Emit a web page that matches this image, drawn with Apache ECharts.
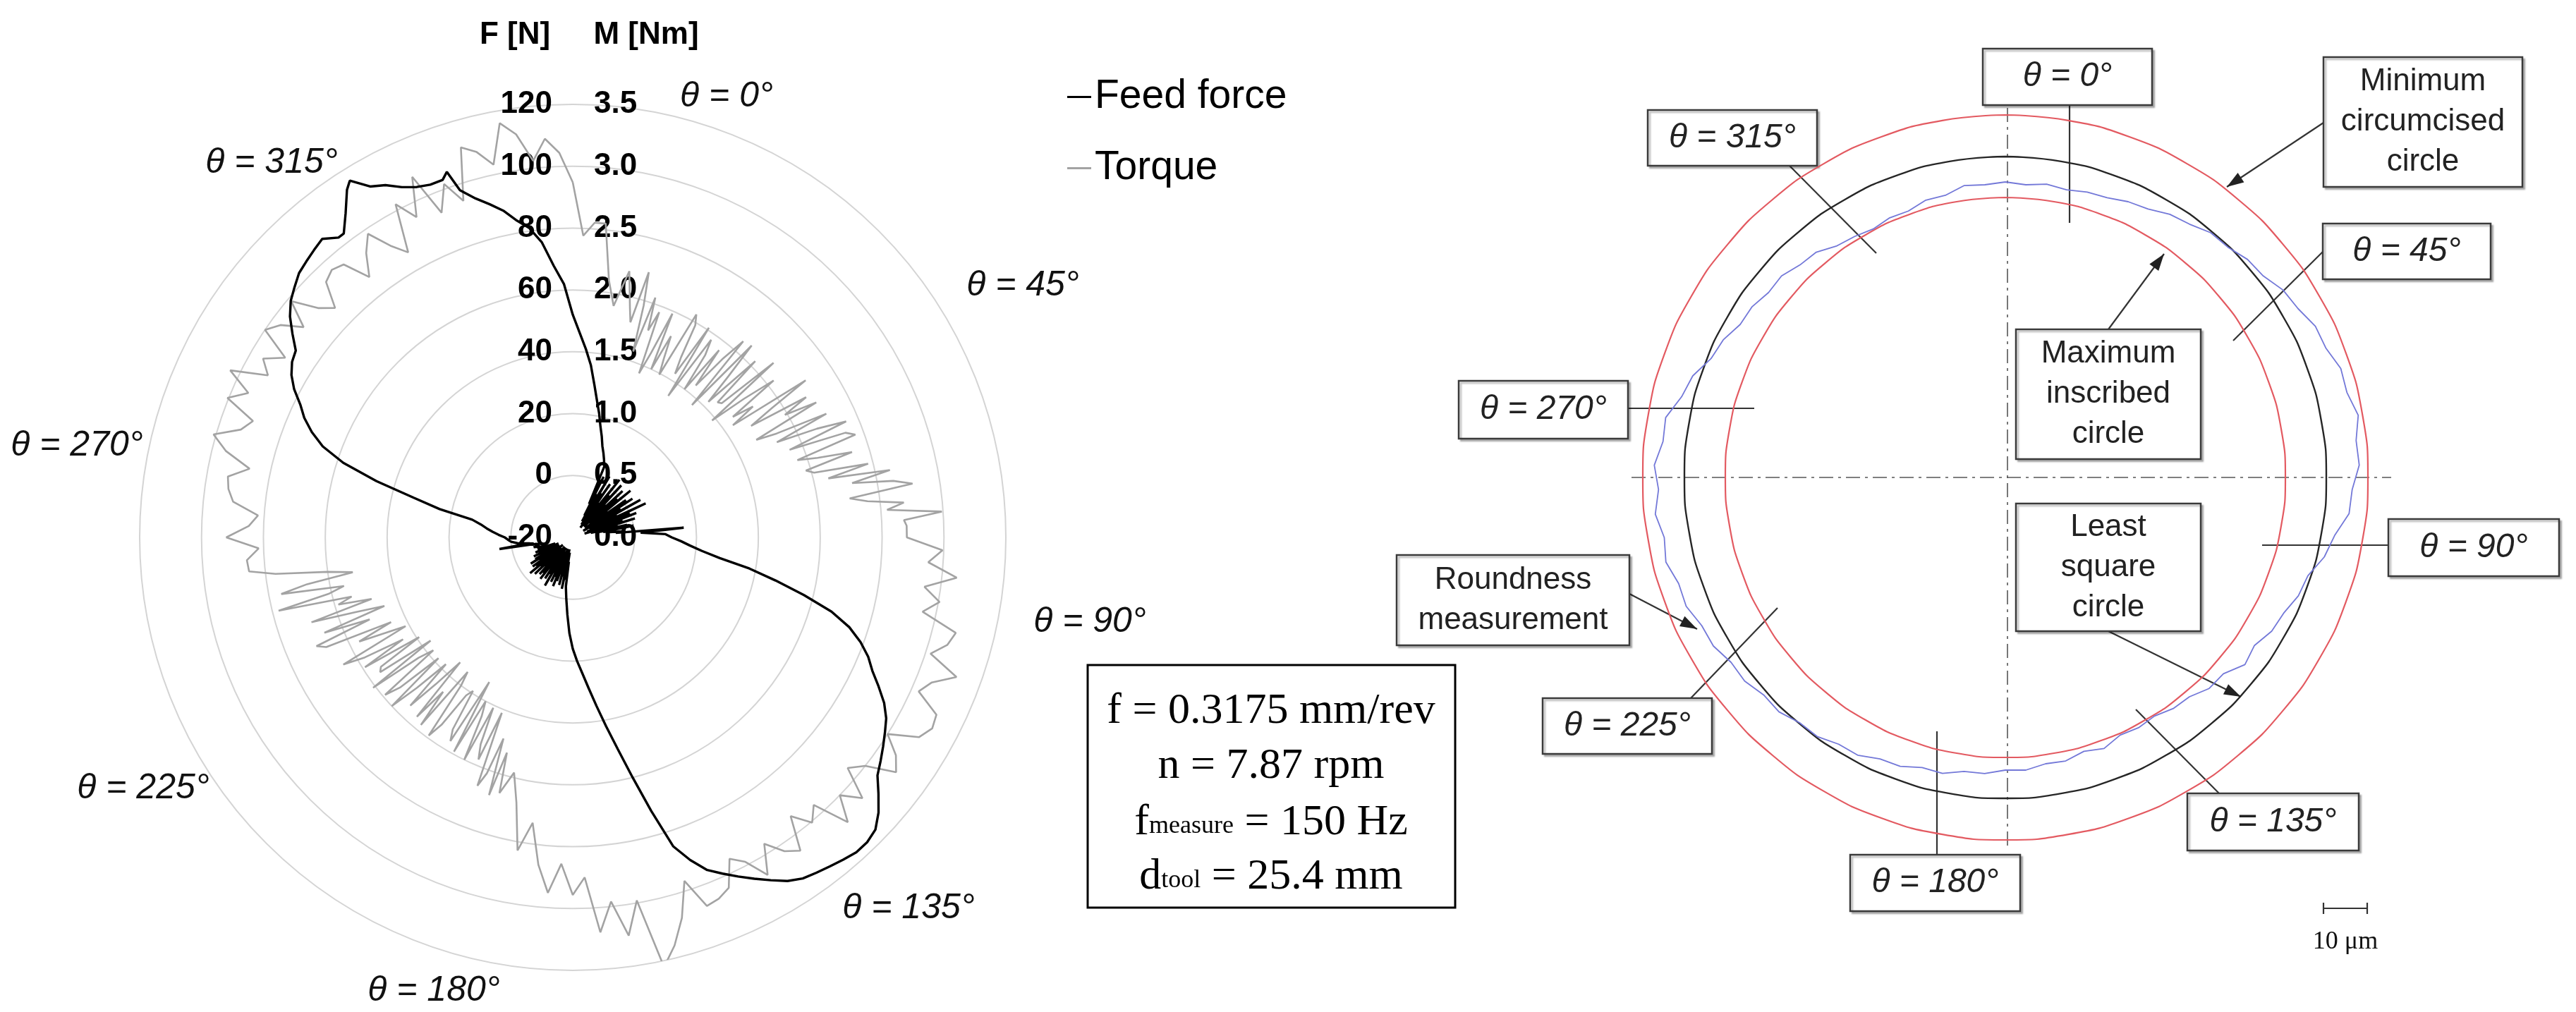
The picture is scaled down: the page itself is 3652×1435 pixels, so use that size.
<!DOCTYPE html>
<html>
<head>
<meta charset="utf-8">
<script src="https://cdn.jsdelivr.net/npm/echarts@6/dist/echarts.min.js"></script>
<style>
html, body { margin: 0; padding: 0; background: #fff; }
#chart { width: 3652px; height: 1435px; }
</style>
</head>
<body>
<div id="chart"></div>
<script>
// ---------- left panel: feed force / torque vs. angle ----------
// feed force [N] at angle theta [deg], theta clockwise from top
const forceAngles = [0, 2, 4, 6, 8, 10, 12, 14, 16, 18, 20, 22, 24,
  26, 27, 28, 29, 30, 31, 32, 33, 34, 35, 36, 37, 38, 39, 40, 41, 42, 43, 44, 45,
  46, 47, 48, 49, 50, 51, 52, 53, 54, 55, 56, 57, 58, 59, 60, 61, 62, 63, 64, 65,
  66, 67, 68, 69, 70, 71, 72, 73, 74, 75, 76, 77, 78, 79, 80, 81, 82, 83, 84, 85,
  86, 88, 90, 92, 94, 96, 98, 100, 102, 104, 106, 108, 110, 112, 114, 116, 118, 120,
  122, 124, 126, 128, 130, 132, 134, 136, 138, 140, 142, 144, 146, 148, 150, 152, 154, 156,
  158, 160, 162, 164, 166, 168, 170, 172, 174, 176, 178, 180, 182, 184, 186,
  188, 189, 190, 191, 192, 193, 194, 195, 196, 197, 198, 199, 200, 201, 202, 203, 204, 205, 206, 207,
  208, 209, 210, 211, 212, 213, 214, 215, 216, 217, 218, 219, 220, 221, 222, 223, 224, 225, 226, 227,
  228, 229, 230, 231, 232, 233, 234, 235, 236, 237, 238, 239, 240, 241, 242, 243, 244, 245, 246, 247,
  248, 249, 250, 251, 252, 253, 254, 256, 258, 260, 261, 262, 264, 266, 268, 270, 272, 274, 276, 278,
  280, 282, 284, 286, 288, 290, 292, 294, 296, 298, 300, 302, 304, 306, 308, 310, 312, 314, 316, 318,
  320, 322, 323, 325, 327, 328, 330, 332, 334, 336, 338, 340, 341, 342, 344, 346, 348, 350, 352, 354,
  356, 358, 360];
const forceValues = [52, 46, 41, 36, 30, 25, 21, 17, 14, 11, 9, 7, 5,
  -8, 2, -12, -4, -14, 3, -10, -3, -15, 1, -11, -6, -16, 4, -9, -2, -14, 3, -12, -5,
  -15, 2, -10, -1, -13, 4, -11, -6, -15, 1, -12, 3, -16, -2, -13, 5, -11, -4, -14, 6,
  -10, 0, -15, 2, -12, -3, -16, 1, -11, -5, -14, -2, -12, 0, -10, -6, -8, -4, -6, 16,
  2, 10, 12, 15, 18, 22, 28, 38, 47, 57, 67, 74, 79, 83, 86, 90, 94, 97,
  99, 101, 103, 105, 109, 113, 116, 117, 117, 116, 115, 114, 113, 111, 108, 105, 102, 99,
  96, 91, 85, 72, 60, 50, 42, 35, 29, 24, 20, 16, 11, 5, 0,
  -4, -12, -6, -15, -3, -13, -7, -16, -4, -12, -8, -15, -5, -14, -3, -16, -6, -12, -4, -15,
  -7, -13, -2, -14, -6, -16, -4, -11, -8, -15, -3, -13, -5, -16, -4, -12, -7, -14, -3, -15,
  -6, -12, -2, -14, -5, -16, -4, -13, -7, -15, -4, -12, -6, -14, -8, -15, -6, -13, -9, -15,
  -7, -12, -9, -14, -8, -11, -9, -7, -9, -8, 4, -6, -2, 0, 1, 2, 4, 6, 8, 10,
  13, 24, 33, 46, 58, 66, 71, 75, 78, 82, 85, 87, 88, 92, 96, 99, 101, 103, 104, 105,
  106, 103, 103, 108, 114, 116, 111, 109, 106, 104, 103, 103, 105, 98, 94, 91, 88, 84, 81, 76,
  68, 62, 52];

// torque [Nm]; every 1 deg in the two noisy bands, every 2 deg elsewhere
const torqueAngles = [0, 2, 4, 6, 8, 10, 12, 14,
  15, 16, 17, 18, 19, 20, 21, 22, 23, 24, 25, 26, 27, 28, 29, 30, 31, 32, 33, 34,
  35, 36, 37, 38, 39, 40, 41, 42, 43, 44, 45, 46, 47, 48, 49, 50, 51, 52, 53, 54,
  55, 56, 57, 58, 59, 60, 61, 62, 63, 64, 65, 66, 67, 68, 69, 70, 71, 72, 73, 74,
  75, 76, 77, 78, 79, 80, 81, 82, 83, 84, 85, 86, 87, 88,
  90, 92, 94, 96, 98, 100, 102, 104, 106, 108, 110, 112, 114, 116, 118, 120, 122, 124, 126, 128,
  130, 132, 134, 136, 138, 140, 142, 144, 146, 148, 150, 152, 154, 156, 158, 160, 162, 164, 166, 168,
  170, 172, 174, 176, 178, 180, 182, 184, 186, 188, 190, 192, 194, 196,
  197, 198, 199, 200, 201, 202, 203, 204, 205, 206, 207, 208, 209, 210, 211, 212, 213, 214, 215, 216,
  217, 218, 219, 220, 221, 222, 223, 224, 225, 226, 227, 228, 229, 230, 231, 232, 233, 234, 235, 236,
  237, 238, 239, 240, 241, 242, 243, 244, 245, 246, 247, 248, 249, 250, 251, 252, 253, 254, 255, 256,
  257, 258, 259, 260, 261, 262, 263, 264,
  266, 268, 270, 272, 274, 276, 278, 280, 282, 284, 286, 288, 290, 292, 294, 296, 298, 300, 302, 304,
  306, 308, 310, 312, 314, 316, 318, 320, 322, 324, 326, 328, 330, 332, 334, 336, 338, 340, 342, 344,
  346, 348, 350, 352, 354, 356, 358, 360];
const torqueValues = [2.87, 2.44, 2.55, 2.55, 2.10, 1.90, 2.20, 1.91,
  1.80, 2.23, 1.96, 1.58, 2.05, 1.78, 1.95, 1.43, 1.62, 1.98, 1.50, 1.81, 1.62, 1.49, 2.06, 1.98, 1.70, 1.56, 2.02, 1.38,
  1.95, 1.82, 1.50, 1.92, 1.58, 1.88, 2.10, 1.44, 2.12, 1.81, 1.55, 2.05, 1.60, 1.62, 2.15, 1.47, 1.78, 2.06, 1.62, 1.80,
  1.58, 2.27, 1.92, 1.70, 2.20, 1.98, 2.25, 1.68, 1.85, 2.28, 1.82, 2.16, 2.40, 1.89, 2.36, 2.43, 1.92, 2.08, 2.36, 1.96,
  2.02, 2.46, 2.12, 2.62, 2.30, 2.63, 2.78, 2.26, 2.40, 2.69, 2.55, 2.99, 2.68, 2.70,
  2.70, 2.99, 2.88, 3.12, 2.87, 3.01, 2.89, 3.19, 3.15, 3.04, 3.30, 3.13, 3.06, 3.27, 3.29, 3.23, 3.00, 3.15, 3.23, 3.00,
  2.90, 3.15, 3.00, 3.20, 2.91, 3.01, 2.86, 3.13, 3.06, 2.92, 3.15, 2.97, 2.89, 3.10, 3.15, 3.17, 2.92, 3.20, 3.40, 3.55,
  2.98, 3.25, 2.96, 3.20, 2.75, 2.89, 2.64, 2.88, 2.66, 2.33, 2.57, 2.19, 1.96, 2.15,
  1.82, 2.19, 1.72, 2.03, 2.15, 1.53, 1.95, 1.83, 1.52, 2.00, 1.62, 1.50, 1.98, 1.35, 1.92, 1.83, 1.48, 1.54, 1.85, 1.98,
  1.50, 1.38, 1.95, 1.63, 1.92, 1.36, 1.62, 1.89, 1.45, 1.75, 2.00, 1.46, 1.85, 1.98, 1.45, 1.58, 2.02, 1.42, 1.90, 1.87,
  1.48, 1.98, 1.60, 1.94, 2.12, 1.53, 1.70, 1.92, 1.62, 2.18, 2.25, 1.77, 2.15, 1.62, 1.85, 2.22, 1.70, 1.97, 1.85, 2.45,
  2.02, 1.89, 2.40, 2.18, 1.80, 2.00, 2.42, 2.63,
  2.64, 2.54, 2.80, 2.62, 2.55, 2.76, 2.81, 2.83, 2.67, 2.89, 3.02, 2.82, 2.75, 3.01, 2.87, 3.08, 2.79, 2.89, 2.74, 3.00,
  2.92, 2.76, 2.97, 2.77, 2.67, 2.87, 2.91, 2.88, 2.67, 2.84, 2.96, 2.78, 2.66, 3.05, 2.88, 3.19, 2.83, 3.04, 2.86, 3.28,
  3.21, 3.08, 3.40, 3.29, 3.06, 3.23, 3.11, 2.87];

const angleLabels = ['θ = 0°', 'θ = 45°', 'θ = 90°', 'θ = 135°', 'θ = 180°', 'θ = 225°', 'θ = 270°', 'θ = 315°'];
const processParams = ['f = 0.3175 mm/rev', 'n = 7.87 rpm', 'fmeasure = 150 Hz', 'dtool = 25.4 mm'];

// ---------- right panel: roundness profile ----------
const profileAngles = [0, 4, 8, 12, 16, 20, 24, 28, 32, 36, 40, 44, 48, 52, 56, 60, 64, 68, 72, 76,
  80, 84, 88, 92, 96, 100, 104, 108, 112, 116, 120, 124, 128, 132, 136, 140, 144, 148, 152, 156,
  160, 164, 168, 172, 176, 180, 184, 188, 192, 196, 200, 204, 208, 212, 216, 220, 224, 228, 232, 236,
  240, 244, 248, 252, 256, 260, 264, 268, 272, 276, 280, 284, 288, 292, 296, 300, 304, 308, 312, 316,
  320, 324, 328, 332, 336, 340, 344, 348, 352, 356, 360];
const profileRadius = [419, 416, 420, 417, 421, 422, 428, 431, 440, 444, 453, 454, 462, 464, 475, 479, 489, 490, 500, 499,
  508, 500, 502, 492, 490, 474, 466, 451, 448, 439, 436, 426, 431, 416, 416, 406, 405, 399, 402, 400,
  409, 404, 411, 410, 416, 415, 421, 421, 429, 428, 436, 437, 446, 446, 454, 454, 462, 461, 469, 469,
  478, 479, 488, 487, 496, 491, 499, 492, 498, 488, 489, 473, 466, 450, 445, 434, 433, 426, 427, 419,
  417, 406, 403, 399, 403, 402, 409, 409, 418, 416, 419];
const circleAngles = [0, 10, 20, 30, 40, 50, 60, 70, 80, 90, 100, 110, 120, 130, 140, 150, 160, 170, 180,
  190, 200, 210, 220, 230, 240, 250, 260, 270, 280, 290, 300, 310, 320, 330, 340, 350, 360];
const circumscribedRadius = 514;
const leastSquareRadius = 455;
const inscribedRadius = 397;
const contactPoints = [[399, 330], [508, 81]];

// ---------- layout ----------
const LEFT = { cx: 812, cy: 762, r: 614 };
const RIGHT = { cx: 2843, cy: 677, r: 560 };
const SANS = 'Liberation Sans';
const SERIF = 'Liberation Serif';
const angleLabelPos = [[1030, 137], [1450, 405], [1545, 882], [1288, 1288], [615, 1405], [203, 1118], [109, 632], [385, 231]];

const boxes = [
  { x: 2811, y: 69, w: 240, h: 80, text: 'θ = 0°', it: true },
  { x: 2336, y: 156, w: 240, h: 79, text: 'θ = 315°', it: true },
  { x: 3294, y: 81, w: 282, h: 184, text: 'Minimum\ncircumcised\ncircle' },
  { x: 3293, y: 317, w: 238, h: 79, text: 'θ = 45°', it: true },
  { x: 2858, y: 467, w: 262, h: 184, text: 'Maximum\ninscribed\ncircle' },
  { x: 2068, y: 540, w: 240, h: 82, text: 'θ = 270°', it: true },
  { x: 2858, y: 714, w: 262, h: 181, text: 'Least\nsquare\ncircle' },
  { x: 3386, y: 736, w: 242, h: 81, text: 'θ = 90°', it: true },
  { x: 1980, y: 787, w: 330, h: 128, text: 'Roundness\nmeasurement' },
  { x: 2187, y: 990, w: 240, h: 79, text: 'θ = 225°', it: true },
  { x: 3101, y: 1125, w: 243, h: 81, text: 'θ = 135°', it: true },
  { x: 2623, y: 1212, w: 241, h: 80, text: 'θ = 180°', it: true }
];
const leaders = [
  [2934, 149, 2934, 316], [2537, 235, 2660, 359], [3293, 357, 3166, 483], [2308, 579, 2487, 579],
  [3386, 773, 3207, 773], [2397, 990, 2520, 862], [3146, 1125, 3028, 1006], [2746, 1212, 2746, 1037]
];
const arrows = [
  [3294, 174, 3157, 265], [2989, 467, 3068, 360], [2989, 895, 3177, 988], [2310, 842, 2406, 892]
];

function zip(r, a) { return r.map((v, i) => [v, a[i]]); }

function boxGraphic(b) {
  return {
    type: 'group', silent: true,
    children: [
      { type: 'rect', shape: { x: b.x, y: b.y, width: b.w, height: b.h },
        style: { fill: '#fff', stroke: '#3a3a3a', lineWidth: 2.5, shadowColor: 'rgba(0,0,0,0.25)', shadowOffsetX: 3, shadowOffsetY: 3, shadowBlur: 2 } },
      { type: 'text', x: b.x + b.w / 2, y: b.y + b.h / 2,
        style: { text: b.text, fill: '#222', fontFamily: SANS, fontSize: b.it ? 48 : 44, fontStyle: b.it ? 'italic' : 'normal',
          lineHeight: 57, align: 'center', verticalAlign: 'middle', textAlign: 'center', textVerticalAlign: 'middle' } }
    ]
  };
}
function lineGraphic(l, dash) {
  return { type: 'line', silent: true, shape: { x1: l[0], y1: l[1], x2: l[2], y2: l[3] },
    style: { stroke: dash ? '#555' : '#333', lineWidth: dash ? 1.6 : 2.2, lineDash: dash || null } };
}
function arrowGraphic(l) {
  const ang = Math.atan2(l[3] - l[1], l[2] - l[0]);
  const len = 24, half = 8;
  const bx = l[2] - len * Math.cos(ang), by = l[3] - len * Math.sin(ang);
  return [lineGraphic(l), { type: 'polygon', silent: true,
    shape: { points: [[l[2], l[3]], [bx + half * Math.sin(ang), by - half * Math.cos(ang)], [bx - half * Math.sin(ang), by + half * Math.cos(ang)]] },
    style: { fill: '#222' } }];
}

const graphics = [];
// axis titles
graphics.push({ type: 'text', x: 730, y: 50, style: { text: 'F [N]', fill: '#000', fontFamily: SANS, fontSize: 44, fontWeight: 'bold', align: 'center', verticalAlign: 'middle', textAlign: 'center', textVerticalAlign: 'middle' } });
graphics.push({ type: 'text', x: 916, y: 50, style: { text: 'M [Nm]', fill: '#000', fontFamily: SANS, fontSize: 44, fontWeight: 'bold', align: 'center', verticalAlign: 'middle', textAlign: 'center', textVerticalAlign: 'middle' } });
// angle labels of the polar plot
angleLabels.forEach((t, i) => {
  graphics.push({ type: 'text', x: angleLabelPos[i][0], y: angleLabelPos[i][1],
    style: { text: t, fill: '#111', fontFamily: SANS, fontSize: 50, fontStyle: 'italic', align: 'center', verticalAlign: 'middle', textAlign: 'center', textVerticalAlign: 'middle' } });
});
// process parameter box
graphics.push({ type: 'rect', silent: true, shape: { x: 1542, y: 943, width: 521, height: 344 }, style: { fill: '#fff', stroke: '#000', lineWidth: 3 } });
const paramRich = {
  v: { fontFamily: SERIF, fontSize: 62, fill: '#000' },
  s: { fontFamily: SERIF, fontSize: 36, fill: '#000', verticalAlign: 'bottom', padding: [0, 0, 8, 0] }
};
const paramText = [
  '{v|' + processParams[0] + '}',
  '{v|' + processParams[1] + '}',
  '{v|f}{s|measure}{v|' + processParams[2].slice(8) + '}',
  '{v|d}{s|tool}{v|' + processParams[3].slice(5) + '}'
];
[1009, 1087, 1167, 1244].forEach((y, i) => {
  graphics.push({ type: 'text', x: 1802, y: y, silent: true,
    style: { text: paramText[i], rich: paramRich, align: 'center', verticalAlign: 'middle', textAlign: 'center', textVerticalAlign: 'middle' } });
});
// right panel: centre lines, boxes, leaders, arrows, scale bar
const dashDot = [20, 7, 4, 7];
graphics.push(lineGraphic([2313, RIGHT.cy, 3390, RIGHT.cy], dashDot));
graphics.push(lineGraphic([2846, 153, 2846, 1199], dashDot));
leaders.forEach(l => graphics.push(lineGraphic(l)));
arrows.forEach(l => arrowGraphic(l).forEach(g => graphics.push(g)));
boxes.forEach(b => graphics.push(boxGraphic(b)));
graphics.push(lineGraphic([3294, 1288, 3356, 1288]));
graphics.push(lineGraphic([3294, 1280, 3294, 1296]));
graphics.push(lineGraphic([3356, 1280, 3356, 1296]));
graphics.push({ type: 'text', x: 3325, y: 1336, style: { text: '10 μm', fill: '#111', fontFamily: SERIF, fontSize: 36, align: 'center', verticalAlign: 'middle', textAlign: 'center', textVerticalAlign: 'middle' } });

const hiddenAngle = { type: 'value', min: 0, max: 360, startAngle: 90, clockwise: true,
  axisLine: { show: false }, axisTick: { show: false }, axisLabel: { show: false }, splitLine: { show: false } };

const option = {
  animation: false,
  backgroundColor: '#fff',
  legend: {
    data: ['Feed force', 'Torque'],
    orient: 'vertical', left: 1508, top: 104, itemGap: 44,
    icon: 'rect', itemWidth: 34, itemHeight: 3,
    textStyle: { fontFamily: SANS, fontSize: 57, color: '#000' }
  },
  polar: [
    { center: [LEFT.cx, LEFT.cy], radius: LEFT.r },
    { center: [LEFT.cx, LEFT.cy], radius: LEFT.r },
    { center: [RIGHT.cx, RIGHT.cy], radius: RIGHT.r }
  ],
  angleAxis: [
    Object.assign({ polarIndex: 0 }, hiddenAngle),
    Object.assign({ polarIndex: 1 }, hiddenAngle),
    Object.assign({ polarIndex: 2 }, hiddenAngle)
  ],
  radiusAxis: [
    { polarIndex: 0, type: 'value', min: -20, max: 120, interval: 20,
      axisLine: { show: false }, axisTick: { show: false },
      axisLabel: { margin: 29, align: 'right', fontFamily: SANS, fontSize: 44, fontWeight: 'bold', color: '#000' },
      splitLine: { show: true, lineStyle: { color: '#d4d4d4', width: 2 } } },
    { polarIndex: 1, type: 'value', min: 0, max: 3.5, interval: 0.5,
      axisLine: { show: false }, axisTick: { show: false },
      axisLabel: { margin: -30, align: 'left', fontFamily: SANS, fontSize: 44, fontWeight: 'bold', color: '#000',
        formatter: v => v.toFixed(1) },
      splitLine: { show: false } },
    // right panel radius in drawing units (1 unit = 1 px)
    { polarIndex: 2, type: 'value', min: 0, max: RIGHT.r,
      axisLine: { show: false }, axisTick: { show: false }, axisLabel: { show: false }, splitLine: { show: false } }
  ],
  series: [
    { name: 'Torque', type: 'line', coordinateSystem: 'polar', polarIndex: 1,
      data: zip(torqueValues, torqueAngles), showSymbol: false, color: '#a3a3a3',
      lineStyle: { width: 2.6, color: '#a3a3a3' }, z: 3 },
    { name: 'Feed force', type: 'line', coordinateSystem: 'polar', polarIndex: 0,
      data: zip(forceValues, forceAngles), showSymbol: false, color: '#000',
      lineStyle: { width: 3.4, color: '#000' }, z: 4 },
    { name: 'Minimum circumscribed circle', type: 'line', coordinateSystem: 'polar', polarIndex: 2,
      data: circleAngles.map(a => [circumscribedRadius, a]), showSymbol: false, smooth: true,
      lineStyle: { width: 2.2, color: '#e35a61' } },
    { name: 'Least square circle', type: 'line', coordinateSystem: 'polar', polarIndex: 2,
      data: circleAngles.map(a => [leastSquareRadius, a]), showSymbol: false, smooth: true,
      lineStyle: { width: 2.4, color: '#262626' } },
    { name: 'Maximum inscribed circle', type: 'line', coordinateSystem: 'polar', polarIndex: 2,
      data: circleAngles.map(a => [inscribedRadius, a]), showSymbol: false, smooth: true,
      lineStyle: { width: 2.2, color: '#e35a61' } },
    { name: 'Roundness measurement', type: 'line', coordinateSystem: 'polar', polarIndex: 2,
      data: zip(profileRadius, profileAngles), showSymbol: false,
      lineStyle: { width: 1.8, color: '#7378d8' } },
    { name: 'Contact', type: 'scatter', coordinateSystem: 'polar', polarIndex: 2,
      data: contactPoints, symbol: 'emptyCircle', symbolSize: 10,
      itemStyle: { color: '#fff', borderColor: '#e35a61', borderWidth: 2 } }
  ],
  graphic: graphics
};

const chart = echarts.init(document.getElementById('chart'));
chart.setOption(option);
</script>
</body>
</html>
